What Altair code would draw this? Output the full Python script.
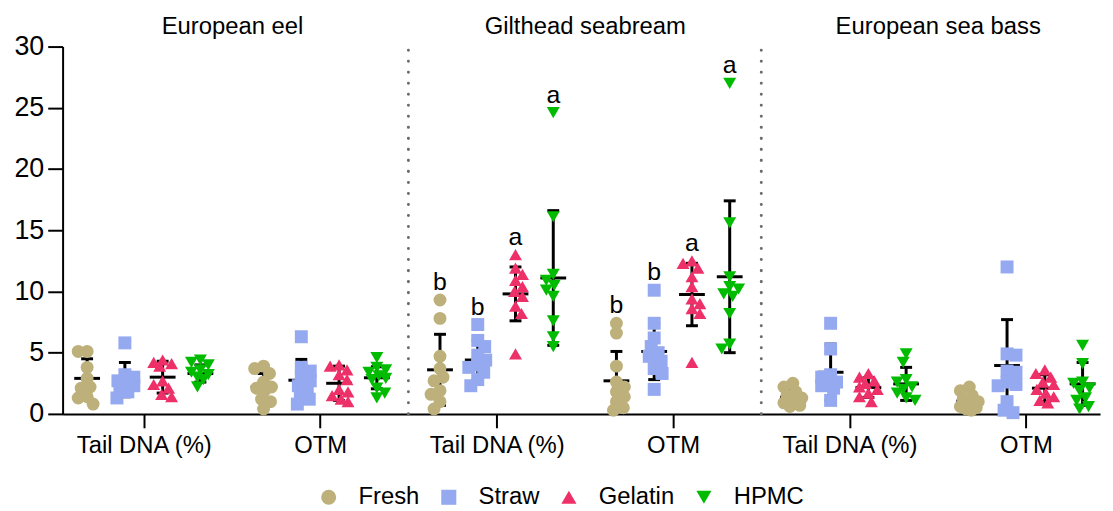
import altair as alt
import pandas as pd

# ---------------- data ----------------
species = ["European eel", "Gilthead seabream", "European sea bass"]
measures = ["Tail DNA (%)", "OTM"]
treatments = ["Fresh", "Straw", "Gelatin", "HPMC"]

eel_tail_fresh = [5.1, 5.1, 3.8, 2.9, 2.2, 2.1, 1.4, 1.3, 0.8]
eel_tail_straw = [5.8, 3.2, 3.0, 2.7, 2.5, 2.3, 2.0, 1.8, 1.3]
eel_tail_gelatin = [4.4, 4.2, 4.1, 3.9, 2.7, 2.4, 2.1, 1.6, 1.4]
eel_tail_hpmc = [4.4, 4.2, 4.0, 3.6, 3.4, 3.2, 3.0, 2.8, 2.2]
eel_otm_fresh = [3.9, 3.7, 3.3, 2.6, 2.2, 2.1, 1.9, 1.2, 1.0, 0.4]
eel_otm_straw = [6.3, 3.8, 3.5, 3.0, 2.7, 2.3, 2.0, 1.5, 1.2, 0.8]
eel_otm_gelatin = [4.0, 3.9, 3.6, 3.2, 2.8, 2.0, 1.8, 1.5, 1.2, 1.0]
eel_otm_hpmc = [4.6, 3.8, 3.6, 3.4, 3.1, 2.9, 2.8, 2.1, 1.7, 1.3]

gil_tail_fresh = [9.3, 7.8, 4.7, 3.7, 3.0, 2.7, 1.9, 1.6, 1.0, 0.4]
gil_tail_straw = [7.3, 6.0, 5.5, 4.8, 4.4, 4.0, 3.8, 3.4, 2.8, 2.3]
gil_tail_gelatin = [13.0, 11.9, 11.4, 10.9, 10.4, 10.0, 9.6, 8.8, 8.2, 4.9]
gil_tail_hpmc = [24.6, 16.1, 11.4, 10.9, 10.5, 10.1, 9.6, 7.6, 6.3, 5.5]
gil_otm_fresh = [7.4, 6.6, 3.9, 2.6, 2.2, 1.8, 1.4, 1.0, 0.5, 0.3]
gil_otm_straw = [10.1, 7.4, 6.2, 5.5, 5.0, 4.7, 4.3, 3.7, 3.3, 2.0]
gil_otm_gelatin = [12.5, 12.3, 11.9, 11.2, 10.4, 9.4, 9.0, 8.6, 8.2, 4.2]
gil_otm_hpmc = [27.0, 15.6, 11.2, 10.4, 10.2, 9.8, 9.6, 8.2, 5.7, 5.3]

bass_tail_fresh = [2.5, 2.2, 1.8, 1.5, 1.3, 1.1, 0.9, 0.7, 0.6]
bass_tail_straw = [7.4, 5.3, 3.2, 3.0, 2.6, 2.4, 2.3, 2.1, 1.1]
bass_tail_gelatin = [3.3, 3.0, 2.7, 2.5, 2.2, 2.0, 1.7, 1.4, 1.0]
bass_tail_hpmc = [4.9, 4.2, 2.8, 2.6, 2.2, 2.0, 1.7, 1.3, 1.1]
bass_otm_fresh = [2.2, 1.9, 1.5, 1.2, 1.0, 0.8, 0.6, 0.5, 0.4, 0.3]
bass_otm_straw = [12.0, 4.9, 4.8, 3.5, 3.4, 2.6, 2.4, 2.3, 1.0, 0.3, 0.1]
bass_otm_gelatin = [3.6, 3.3, 3.0, 2.6, 2.4, 2.0, 1.7, 1.4, 1.1, 0.9]
bass_otm_hpmc = [5.6, 4.1, 2.6, 2.5, 2.1, 1.9, 1.3, 1.1, 0.6, 0.4]

# mean and SD shown by the error bars (Fresh, Straw, Gelatin, HPMC)
eel_tail_mean = [2.9, 2.8, 3.0, 3.3]
eel_tail_sd = [1.6, 1.4, 1.3, 0.7]
eel_otm_mean = [2.2, 2.75, 2.5, 2.95]
eel_otm_sd = [1.1, 1.7, 1.4, 0.9]
gil_tail_mean = [3.6, 4.4, 9.8, 11.1]
gil_tail_sd = [2.9, 1.6, 2.2, 5.5]
gil_otm_mean = [2.7, 5.1, 9.75, 11.2]
gil_otm_sd = [2.4, 2.3, 2.55, 6.2]
bass_tail_mean = [1.35, 3.4, 2.15, 2.45]
bass_tail_sd = [0.55, 2.3, 0.8, 1.35]
bass_otm_mean = [1.05, 3.95, 2.1, 2.45]
bass_otm_sd = [0.45, 3.75, 1.1, 1.75]

# significance letters (Gilthead seabream only)
gil_tail_letters = ["b", "b", "a", "a"]
gil_otm_letters = ["b", "b", "a", "a"]

colors = ["#BDB07B", "#94A9F0", "#EE3068", "#00BB00"]
shapes = ["circle", "square", "triangle-up", "triangle-down"]

# ---------------- assemble tables ----------------
panels = [
    (eel_tail_fresh, eel_tail_straw, eel_tail_gelatin, eel_tail_hpmc, eel_tail_mean, eel_tail_sd, None),
    (eel_otm_fresh, eel_otm_straw, eel_otm_gelatin, eel_otm_hpmc, eel_otm_mean, eel_otm_sd, None),
    (gil_tail_fresh, gil_tail_straw, gil_tail_gelatin, gil_tail_hpmc, gil_tail_mean, gil_tail_sd, gil_tail_letters),
    (gil_otm_fresh, gil_otm_straw, gil_otm_gelatin, gil_otm_hpmc, gil_otm_mean, gil_otm_sd, gil_otm_letters),
    (bass_tail_fresh, bass_tail_straw, bass_tail_gelatin, bass_tail_hpmc, bass_tail_mean, bass_tail_sd, None),
    (bass_otm_fresh, bass_otm_straw, bass_otm_gelatin, bass_otm_hpmc, bass_otm_mean, bass_otm_sd, None),
]

W, H = 1045, 370
XDOM = [-0.46, 5.42]
YDOM = [0, 30]
PX_X = W / (XDOM[1] - XDOM[0])
PX_Y = H / (YDOM[1] - YDOM[0])
GROUP_STEP = 0.214


def swarm(vals, d=9.0, maxoff=9):
    """Spread points sideways (in px) so they overlap less, kept within +-maxoff px."""
    placed, offs = [], [0.0] * len(vals)
    order = sorted(range(len(vals)), key=lambda i: -vals[i])
    cands = [0.0]
    for k in range(1, maxoff + 1):
        cands += [float(k), float(-k)]
    for n, i in enumerate(order):
        yp = vals[i] * PX_Y
        best, bestd = 0.0, -1.0
        sign = 1 if n % 2 == 0 else -1
        for c in cands:
            c = c * sign
            md = min([((c - px) ** 2 + (yp - py) ** 2) ** 0.5 for px, py in placed] or [99.0])
            if md >= d:
                best = c
                break
            if md > bestd:
                best, bestd = c, md
        placed.append((best, yp))
        offs[i] = best / PX_X
    return offs


pts, summ, caps, lets = [], [], [], []
for ci, panel in enumerate(panels):
    groups = panel[:4]
    means, sds, letters = panel[4], panel[5], panel[6]
    for gi, vals in enumerate(groups):
        center = ci + (gi - 1.5) * GROUP_STEP
        for v, o in zip(vals, swarm(vals)):
            pts.append({"pos": center + o, "value": v, "treatment": treatments[gi]})
        m, s = means[gi], sds[gi]
        summ.append({"pos": center, "mean": m, "lo": max(m - s, 0), "hi": m + s})
        caps.append({"pos": center, "y": max(m - s, 0)})
        caps.append({"pos": center, "y": m + s})
        if letters:
            lets.append({"pos": center, "y": max(vals), "letter": letters[gi]})

pts = pd.DataFrame(pts)
summ = pd.DataFrame(summ)
caps = pd.DataFrame(caps)
lets = pd.DataFrame(lets)
seps = pd.DataFrame({"x": [1.5, 3.5], "y0": [0, 0], "y1": [30, 30]})

FONT = "Arial"
xscale = alt.Scale(domain=XDOM, nice=False, zero=False)
yscale = alt.Scale(domain=YDOM, nice=False)
yaxis = alt.Axis(
    values=[0, 5, 10, 15, 20, 25, 30],
    tickSize=15, tickWidth=2, tickColor="black", domainWidth=2, domainColor="black",
    labelFontSize=27, labelColor="black", labelPadding=4, labelFont=FONT,
    grid=False, title=None)

sep_layer = alt.Chart(seps).mark_rule(
    color="#6b6b6b", strokeWidth=3, strokeDash=[0.1, 11], strokeCap="round"
).encode(
    x=alt.X("x:Q", scale=xscale, axis=alt.Axis(
        orient="top", values=[0.5, 2.5, 4.5],
        labelExpr="datum.value == 0.5 ? 'European eel' : datum.value == 2.5 ? 'Gilthead seabream' : 'European sea bass'",
        domain=False, ticks=False, tickSize=0, grid=False, title=None, labelLimit=500,
        labelFontSize=24, labelColor="black", labelPadding=8, labelFont=FONT)),
    y=alt.Y("y0:Q", scale=yscale, axis=yaxis),
    y2="y1:Q",
)

bar_layer = alt.Chart(summ).mark_rule(color="black", strokeWidth=3).encode(
    x=alt.X("pos:Q", scale=xscale, axis=None),
    y=alt.Y("lo:Q", scale=yscale, axis=yaxis),
    y2="hi:Q",
)

cap_layer = alt.Chart(caps).mark_tick(
    orient="horizontal", color="black", size=12, thickness=3, opacity=1
).encode(
    x=alt.X("pos:Q", scale=xscale, axis=None),
    y=alt.Y("y:Q", scale=yscale, axis=yaxis),
)

mean_layer = alt.Chart(summ).mark_tick(
    orient="horizontal", color="black", size=26, thickness=3, opacity=1
).encode(
    x=alt.X("pos:Q", scale=xscale, axis=None),
    y=alt.Y("mean:Q", scale=yscale, axis=yaxis),
)

legend = alt.Legend(
    orient="none", legendX=256, legendY=442, direction="horizontal", title=None,
    labelFontSize=24, labelFont=FONT, labelColor="black", padding=0,
    symbolSize=230, symbolStrokeWidth=0, labelOffset=18, columnPadding=17,
)

point_layer = alt.Chart(pts).mark_point(filled=True, opacity=1, strokeWidth=0, size=170).encode(
    x=alt.X("pos:Q", scale=xscale, axis=alt.Axis(
        values=[0, 1, 2, 3, 4, 5],
        labelExpr="datum.value % 2 == 0 ? 'Tail DNA (%)' : 'OTM'",
        tickSize=14, tickWidth=2, tickColor="black", domainWidth=2, domainColor="black",
        labelFontSize=24, labelColor="black", labelPadding=6, labelFont=FONT,
        grid=False, title=None, labelFlush=False)),
    y=alt.Y("value:Q", scale=yscale, axis=yaxis),
    color=alt.Color("treatment:N", scale=alt.Scale(domain=treatments, range=colors), legend=legend),
    shape=alt.Shape("treatment:N", scale=alt.Scale(domain=treatments, range=shapes), legend=legend),
)

letter_layer = alt.Chart(lets).mark_text(
    baseline="alphabetic", dy=-10, fontSize=25, font=FONT, color="black"
).encode(
    x=alt.X("pos:Q", scale=xscale, axis=None),
    y=alt.Y("y:Q", scale=yscale, axis=yaxis),
    text="letter:N",
)

chart = alt.layer(
    sep_layer, bar_layer, cap_layer, mean_layer, point_layer, letter_layer
).resolve_axis(x="independent").properties(
    width=W, height=H
).configure(font=FONT).configure_view(stroke=None)

chart.save("out.html", embed_options={"renderer": "svg", "actions": False})
